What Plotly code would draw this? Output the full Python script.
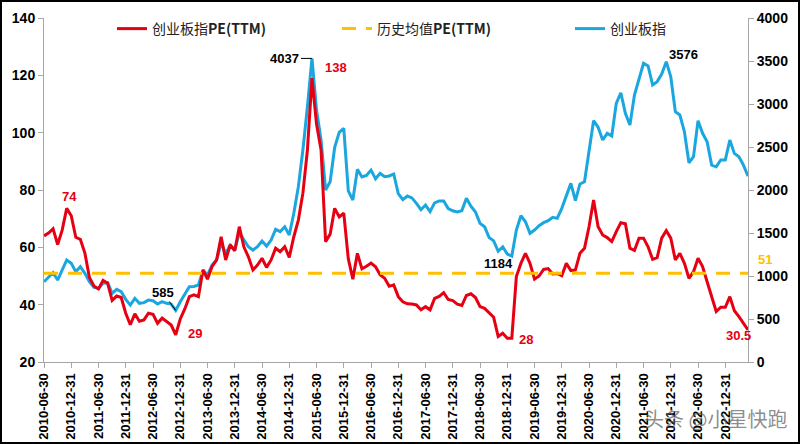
import calendar
import plotly.graph_objects as go

# ---- categories: month-end dates 2010-06 .. 2023-05 ----
dates = []
y, m = 2010, 6
while (y, m) <= (2023, 5):
    dates.append(f"{y:04d}-{m:02d}-{calendar.monthrange(y, m)[1]:02d}")
    m += 1
    if m > 12:
        m, y = 1, y + 1

# ---- series values ----
pe_ttm = [
    64, 65, 66.5, 61, 66, 73.6, 71, 63.5, 62.8, 58,
    49.5, 46.5, 45.5, 48.5, 47.5, 41.5, 43, 42.5, 37, 33,
    36.8, 34.2, 34.7, 37, 36.6, 33.5, 35.3, 34.2, 32.9, 29.5,
    35, 38.5, 42.8, 43.4, 42.8, 52.1, 48.9, 53.3, 55.6, 63.7,
    55.6, 60.8, 58.8, 67.2, 60.2, 56.7, 52.1, 53.8, 56.2, 53,
    55.6, 59.7, 58.5, 60.2, 56.5, 63.7, 69.5, 78.9, 94, 119,
    103, 94, 62, 64.6, 73.6, 70.6, 71.9, 56, 48.9, 57.9,
    52.5, 53.4, 54.5, 53.2, 50.4, 49.2, 46.4, 46.9, 42.8, 41,
    40.3, 40.2, 39.9, 38.2, 39.3, 38.2, 42.2, 42.9, 44.2, 41.8,
    41.4, 40.2, 39.7, 43.2, 43.8, 42.5, 39.3, 38.7, 37, 35.6,
    28.9, 30, 28.3, 28.3, 49.8, 54.4, 57.9, 54.4, 48.9, 50,
    52.3, 52.6, 50.7, 50.9, 50.1, 54.4, 51.9, 52.1, 57.9, 59.7,
    67.2, 76.5, 67.2, 64.3, 63.4, 62, 65.5, 68.6, 68.2, 59.7,
    58.9, 63.2, 63.2, 60.2, 55.8, 56.4, 63.2, 65.8, 63.2, 55.6,
    57.9, 54.4, 49.2, 51.5, 56.2, 53.3, 48, 42.8, 37.6, 39.1,
    39.1, 42.8, 37.9, 35.8, 33.5, 31.2,
]
chinext_index = [
    933, 991, 1038, 953, 1069, 1186, 1147, 1050, 1108, 1031,
    933, 868, 856, 915, 922, 798, 845, 818, 729, 662,
    740, 682, 690, 720, 713, 674, 701, 682, 674, 600,
    700, 780, 875, 879, 895, 1069, 1011, 1127, 1186, 1380,
    1263, 1360, 1302, 1503, 1418, 1340, 1302, 1340, 1407, 1348,
    1418, 1542, 1515, 1573, 1476, 1729, 2038, 2465, 2968, 3530,
    2930, 2581, 2000, 2096, 2495, 2670, 2717, 1990, 1883, 2240,
    2152, 2170, 2232, 2130, 2194, 2155, 2163, 2186, 1957, 1887,
    1930, 1908, 1845, 1771, 1825, 1748, 1850, 1873, 1873, 1785,
    1758, 1746, 1760, 1903, 1812, 1744, 1612, 1573, 1447, 1408,
    1288, 1340, 1255, 1232, 1534, 1701, 1631, 1496, 1534, 1585,
    1620, 1643, 1682, 1670, 1787, 1930, 2077, 1876, 2070, 2096,
    2465, 2806, 2729, 2581, 2659, 2628, 3008, 3131, 2892, 2756,
    3105, 3299, 3473, 3442, 3221, 3260, 3349, 3492, 3317, 2910,
    2872, 2678, 2317, 2387, 2806, 2659, 2562, 2290, 2270, 2349,
    2349, 2581, 2426, 2387, 2290, 2162,
]
mean_pe = 51
mean_series = [mean_pe] * len(dates)

tick_labels = dates[0:151:6]
left_ticks = [20, 40, 60, 80, 100, 120, 140]
right_ticks = [0, 500, 1000, 1500, 2000, 2500, 3000, 3500, 4000]

RED = "#E60012"
BLUE = "#1AA7E0"
GOLD = "#FFC000"
FONT = "Liberation Sans"
CJK = "Noto Sans CJK SC, Liberation Sans"

fig = go.Figure()
fig.add_trace(go.Scatter(x=dates, y=pe_ttm, name="创业板指<b>PE(TTM)</b>", mode="lines",
                         line=dict(color=RED, width=3), yaxis="y2", legend="legend"))
fig.add_trace(go.Scatter(x=dates, y=mean_series, name="历史均值<b>PE(TTM)</b>", mode="lines",
                         line=dict(color=GOLD, width=3, dash="14px,10px"), yaxis="y2",
                         legend="legend2"))
fig.add_trace(go.Scatter(x=dates, y=chinext_index, name="创业板指", mode="lines",
                         line=dict(color=BLUE, width=3), yaxis="y", legend="legend3"))

ann_font = dict(family=FONT, size=13, weight="bold")
annotations = [
    dict(x=5.7, y=77.6, yref="y2", text="74", font=dict(color=RED, **ann_font)),
    dict(x=33.3, y=29.8, yref="y2", text="29", font=dict(color=RED, **ann_font)),
    dict(x=64.3, y=122.9, yref="y2", text="138", font=dict(color=RED, **ann_font)),
    dict(x=106.2, y=27.7, yref="y2", text="28", font=dict(color=RED, **ann_font)),
    dict(x=152.9, y=29.1, yref="y2", text="30.5", font=dict(color=RED, **ann_font)),
    dict(x=29, y=600, yref="y", text="585", showarrow=True, arrowhead=0, arrowwidth=1,
         arrowcolor="black", ax=-13, ay=-18, font=dict(color="black", **ann_font)),
    dict(x=59, y=3530, yref="y", text="4037", showarrow=True, arrowhead=0, arrowwidth=1,
         arrowcolor="black", ax=-27, ay=0, font=dict(color="black", **ann_font)),
    dict(x=100, y=1150, yref="y", text="1184", font=dict(color="black", **ann_font)),
    dict(x=140.7, y=3570, yref="y", text="3576", font=dict(color="black", **ann_font)),
    dict(x=(765 - 44) / 704, xref="paper", y=55.8, yref="y2", text="51",
         font=dict(color=GOLD, **ann_font)),
    dict(x=(715 - 44) / 704, xref="paper", y=(362 - 418) / 344, yref="paper",
         text="头条 @小星快跑",
         font=dict(family=CJK, size=20, color="rgba(90,90,90,0.7)")),
]
for a in annotations:
    a.setdefault("xref", "x")
    a.setdefault("showarrow", False)
    a.setdefault("xanchor", "center")
    a.setdefault("yanchor", "middle")

legend_common = dict(orientation="h", y=0.968, xanchor="left", yanchor="middle",
                     font=dict(family=CJK, size=14, color="#222"),
                     bgcolor="rgba(0,0,0,0)")

fig.update_layout(
    width=800, height=444,
    margin=dict(l=44, r=52, t=18, b=82, autoexpand=False),
    paper_bgcolor="white", plot_bgcolor="white",
    showlegend=True, hovermode=False,
    legend=dict(x=(112 - 44) / 704, **legend_common),
    legend2=dict(x=(337 - 44) / 704, **legend_common),
    legend3=dict(x=(570 - 44) / 704, **legend_common),
    xaxis=dict(type="category", range=[0, len(dates) - 1], tickmode="array",
               tickvals=tick_labels, ticktext=tick_labels, tickangle=-90,
               ticks="outside", ticklen=5, tickcolor="#A6A6A6", showline=True,
               linecolor="#A6A6A6", linewidth=1, showgrid=False, automargin=False,
               tickfont=dict(family=FONT, size=13, color="black", weight="bold")),
    yaxis=dict(side="right", range=[0, 4000], tickmode="array", tickvals=right_ticks,
               ticks="outside", ticklen=5, tickcolor="#A6A6A6", showline=True,
               linecolor="#A6A6A6", linewidth=1, showgrid=False, zeroline=False,
               automargin=False,
               tickfont=dict(family=FONT, size=14, color="black", weight="bold")),
    yaxis2=dict(overlaying="y", side="left", range=[20, 140], tickmode="array",
                tickvals=left_ticks, ticks="outside", ticklen=5, tickcolor="#A6A6A6",
                showline=True, linecolor="#A6A6A6", linewidth=1, showgrid=False,
                zeroline=False, automargin=False,
                tickfont=dict(family=FONT, size=14, color="black", weight="bold")),
    annotations=annotations,
    shapes=[dict(type="rect", xref="paper", yref="paper",
                 x0=(1 - 44) / 704, x1=(799 - 44) / 704,
                 y0=(362 - 443) / 344, y1=(362 - 1) / 344,
                 line=dict(color="black", width=2))],
)

fig.write_html("out.html", config={"displayModeBar": False},
               post_script="document.body.style.margin='0px';")
